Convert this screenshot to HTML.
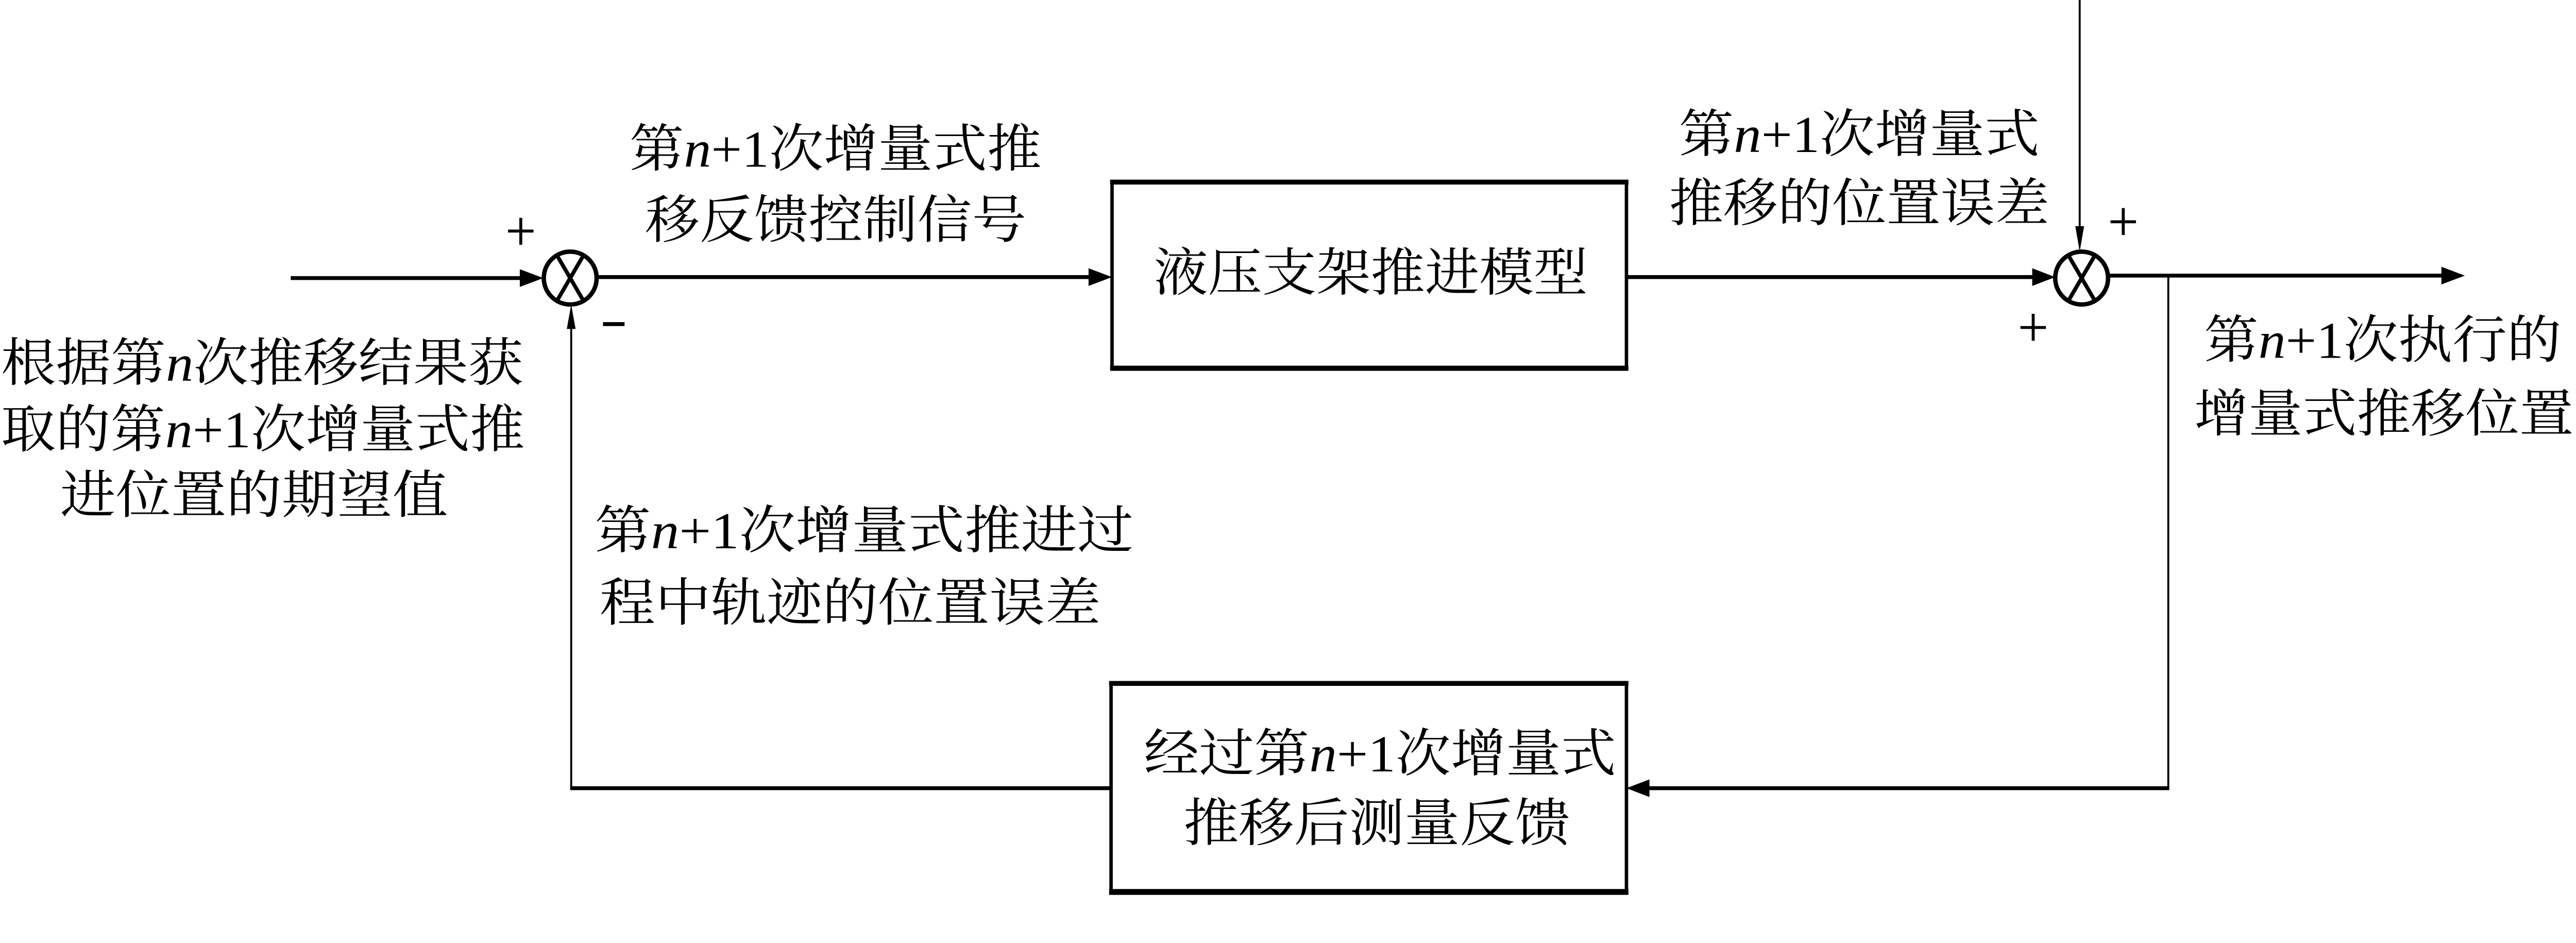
<!DOCTYPE html>
<html><head><meta charset="utf-8"><style>
html,body{margin:0;padding:0;background:#fff;width:100%;height:100%;overflow:hidden;}
svg{display:block;width:100vw;height:34.7710431vw;}
text{font-family:"Liberation Serif","Noto Serif CJK SC",serif;font-size:106px;fill:#000;dominant-baseline:central;}
.i{font-style:italic;}
</style></head><body>
<svg viewBox="0 0 5263 1830" preserveAspectRatio="none" xmlns="http://www.w3.org/2000/svg">
<g stroke="#000" fill="none">
<line x1="594" y1="568" x2="1070" y2="568" stroke-width="8"/>
<polygon points="1110,568 1062,550 1062,586" fill="#000" stroke="none"/>
<circle cx="1165" cy="568" r="54" stroke-width="9"/>
<line x1="1137" y1="520" x2="1193" y2="616" stroke-width="8"/>
<line x1="1193" y1="520" x2="1137" y2="616" stroke-width="8"/>
<line x1="1219" y1="566" x2="2230" y2="566" stroke-width="8"/>
<polygon points="2272,566 2224,548 2224,584" fill="#000" stroke="none"/>
<rect x="2272" y="372" width="1051" height="382" stroke-width="7"/>
<line x1="2268" y1="372" x2="3327" y2="372" stroke-width="10"/>
<line x1="2268" y1="752" x2="3327" y2="752" stroke-width="10"/>
<line x1="3323" y1="566" x2="4160" y2="566" stroke-width="8"/>
<polygon points="4199,566 4152,548 4152,584" fill="#000" stroke="none"/>
<circle cx="4253" cy="568" r="54" stroke-width="9"/>
<line x1="4225" y1="520" x2="4281" y2="616" stroke-width="8"/>
<line x1="4281" y1="520" x2="4225" y2="616" stroke-width="8"/>
<line x1="4249" y1="0" x2="4249" y2="470" stroke-width="4"/>
<polygon points="4249,514 4240,462 4258,462" fill="#000" stroke="none"/>
<line x1="4307" y1="563" x2="4990" y2="563" stroke-width="8"/>
<polygon points="5036,563 4988,545 4988,581" fill="#000" stroke="none"/>
<line x1="4430" y1="563" x2="4430" y2="1610" stroke-width="4"/>
<line x1="4432" y1="1610" x2="3360" y2="1610" stroke-width="8"/>
<polygon points="3323,1610 3370,1592 3370,1628" fill="#000" stroke="none"/>
<rect x="2270" y="1396" width="1053" height="426" stroke-width="7"/>
<line x1="2266" y1="1396" x2="3327" y2="1396" stroke-width="10"/>
<line x1="2266" y1="1822" x2="3327" y2="1822" stroke-width="12"/>
<line x1="2270" y1="1610" x2="1165" y2="1610" stroke-width="8"/>
<line x1="1167" y1="1612" x2="1167" y2="660" stroke-width="4"/>
<polygon points="1167,622 1158,672 1176,672" fill="#000" stroke="none"/>
<line x1="1064" y1="445" x2="1064" y2="500" stroke-width="6"/>
<line x1="1038" y1="472" x2="1090" y2="472" stroke-width="6"/>
<line x1="1232" y1="662" x2="1276" y2="662" stroke-width="8"/>
<line x1="4338" y1="425" x2="4338" y2="480" stroke-width="6"/>
<line x1="4312" y1="453" x2="4364" y2="453" stroke-width="6"/>
<line x1="4154" y1="641" x2="4154" y2="696" stroke-width="6"/>
<line x1="4128" y1="669" x2="4180" y2="669" stroke-width="6"/>
</g>
<text x="1286" y="305" textLength="842" lengthAdjust="spacingAndGlyphs">第<tspan class="i">n</tspan>+1次增量式推</text>
<text x="1318" y="450" textLength="779" lengthAdjust="spacingAndGlyphs">移反馈控制信号</text>
<text x="2357" y="558" textLength="887" lengthAdjust="spacingAndGlyphs">液压支架推进模型</text>
<text x="3430" y="275" textLength="737" lengthAdjust="spacingAndGlyphs">第<tspan class="i">n</tspan>+1次增量式</text>
<text x="3410" y="416" textLength="777" lengthAdjust="spacingAndGlyphs">推移的位置误差</text>
<text x="4503" y="695" textLength="730" lengthAdjust="spacingAndGlyphs">第<tspan class="i">n</tspan>+1次执行的</text>
<text x="4483" y="846" textLength="775" lengthAdjust="spacingAndGlyphs">增量式推移位置</text>
<text x="2" y="742" textLength="1067" lengthAdjust="spacingAndGlyphs">根据第<tspan class="i">n</tspan>次推移结果获</text>
<text x="2" y="878" textLength="1070" lengthAdjust="spacingAndGlyphs">取的第<tspan class="i">n</tspan>+1次增量式推</text>
<text x="123" y="1012" textLength="792" lengthAdjust="spacingAndGlyphs">进位置的期望值</text>
<text x="1215" y="1084" textLength="1101" lengthAdjust="spacingAndGlyphs">第<tspan class="i">n</tspan>+1次增量式推进过</text>
<text x="1225" y="1232" textLength="1024" lengthAdjust="spacingAndGlyphs">程中轨迹的位置误差</text>
<text x="2337" y="1540" textLength="965" lengthAdjust="spacingAndGlyphs">经过第<tspan class="i">n</tspan>+1次增量式</text>
<text x="2418" y="1682" textLength="790" lengthAdjust="spacingAndGlyphs">推移后测量反馈</text>
</svg>
</body></html>
